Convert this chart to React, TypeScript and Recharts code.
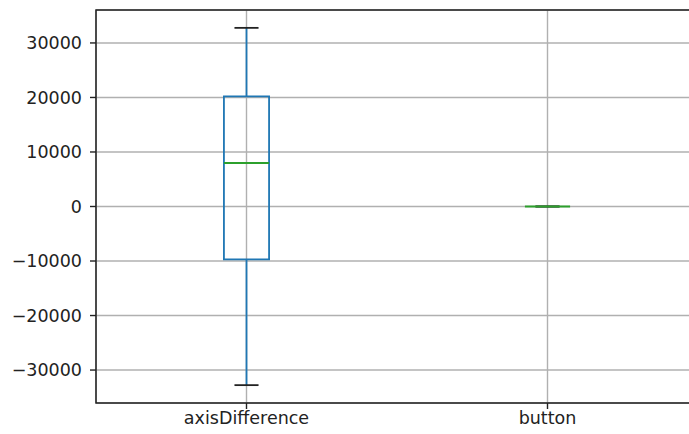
import {
  ComposedChart,
  XAxis,
  YAxis,
  CartesianGrid,
  Scatter,
  ReferenceArea,
  ReferenceLine,
} from 'recharts';

// box plot data, one entry per column
const categories = ['axisDifference', 'button'];
const positions = [1, 2];
const whiskerLow = [-32768, 0];
const q1 = [-9700, 0];
const medians = [8000, 0];
const q3 = [20200, 0];
const whiskerHigh = [32767, 0];

const yTicks = [-30000, -20000, -10000, 0, 10000, 20000, 30000];
const yDomain: [number, number] = [-36045, 36044];
const xDomain: [number, number] = [0.5, 2.5];

const BOX_HALF = 0.075;
const CAP_HALF = 0.04;

const BLUE = '#1f77b4';
const GREEN = '#2ca02c';
const FONT = { fontFamily: 'DejaVu Sans', fontSize: 17.5, fill: '#222' };

const data = categories.map((name, i) => ({ name, pos: positions[i], median: medians[i] }));

const fmtY = (v: number) => String(v).replace('-', '\u2212');
const fmtX = (v: number) => categories[positions.indexOf(v)] ?? '';

export default function App() {
  return (
    <div style={{ position: 'absolute', left: 0, top: 0, width: 689, height: 434, overflow: 'hidden', background: '#fff' }}>
      <ComposedChart width={698} height={434} data={data} margin={{ top: 10, right: 0, bottom: 0, left: 0 }}>
        <CartesianGrid stroke="#b0b0b0" strokeWidth={1.4} />
        <XAxis
          type="number"
          dataKey="pos"
          domain={xDomain}
          ticks={positions}
          tickFormatter={fmtX}
          allowDataOverflow
          height={31}
          axisLine={false}
          tickLine={{ stroke: '#222', strokeWidth: 1.4 }}
          tickSize={6}
          tickMargin={3}
          tick={FONT}
        />
        <YAxis
          type="number"
          domain={yDomain}
          ticks={yTicks}
          tickFormatter={fmtY}
          allowDataOverflow
          width={96}
          axisLine={false}
          tickLine={{ stroke: '#222', strokeWidth: 1.4 }}
          tickSize={6}
          tickMargin={8}
          tick={FONT}
        />
        <Scatter dataKey="median" isAnimationActive={false} shape={() => <g />} legendType="none" />

        {positions.map((p, i) => (
          <ReferenceArea
            key={`box-${i}`}
            x1={p - BOX_HALF}
            x2={p + BOX_HALF}
            y1={q1[i]}
            y2={q3[i]}
            fill="none"
            stroke={BLUE}
            strokeWidth={1.8}
            fillOpacity={0}
            strokeOpacity={1}
          />
        ))}
        {positions.map((p, i) => (
          <ReferenceLine
            key={`wl-${i}`}
            segment={[{ x: p, y: whiskerLow[i] }, { x: p, y: q1[i] }]}
            stroke={BLUE}
            strokeWidth={1.8}
          />
        ))}
        {positions.map((p, i) => (
          <ReferenceLine
            key={`wh-${i}`}
            segment={[{ x: p, y: q3[i] }, { x: p, y: whiskerHigh[i] }]}
            stroke={BLUE}
            strokeWidth={1.8}
          />
        ))}
        {positions.map((p, i) => (
          <ReferenceLine
            key={`cl-${i}`}
            segment={[{ x: p - CAP_HALF, y: whiskerLow[i] }, { x: p + CAP_HALF, y: whiskerLow[i] }]}
            stroke="#222"
            strokeWidth={1.8}
          />
        ))}
        {positions.map((p, i) => (
          <ReferenceLine
            key={`ch-${i}`}
            segment={[{ x: p - CAP_HALF, y: whiskerHigh[i] }, { x: p + CAP_HALF, y: whiskerHigh[i] }]}
            stroke="#222"
            strokeWidth={1.8}
          />
        ))}
        {positions.map((p, i) => (
          <ReferenceLine
            key={`med-${i}`}
            segment={[{ x: p - BOX_HALF, y: medians[i] }, { x: p + BOX_HALF, y: medians[i] }]}
            stroke={GREEN}
            strokeWidth={2}
          />
        ))}
        <ReferenceArea
          x1={xDomain[0]}
          x2={xDomain[1]}
          y1={yDomain[0]}
          y2={yDomain[1]}
          fill="none"
          fillOpacity={0}
          stroke="#222"
          strokeWidth={1.5}
          strokeOpacity={1}
        />
      </ComposedChart>
    </div>
  );
}
